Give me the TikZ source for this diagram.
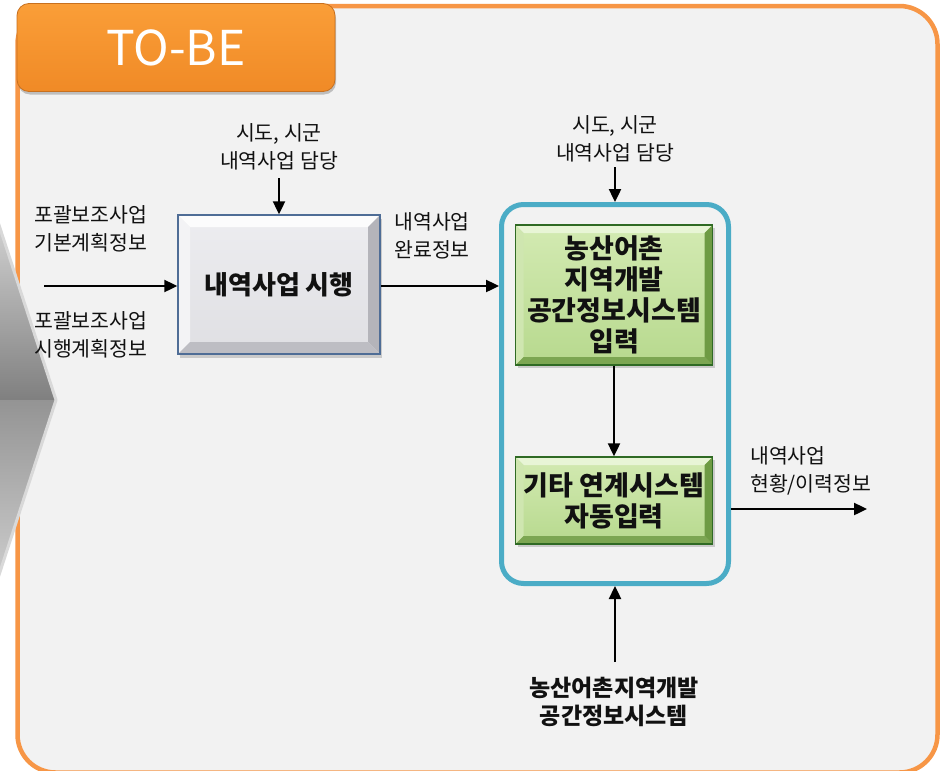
\documentclass[tikz,border=0pt]{standalone}
\usepackage{fontspec}
\setmainfont{Noto Sans CJK KR}
\usetikzlibrary{arrows.meta,shadows}
\definecolor{orangeLine}{HTML}{F79646}
\definecolor{frameBg}{HTML}{F2F2F2}
\definecolor{sysBlue}{HTML}{4BACC6}
\definecolor{tabTop}{HTML}{FA9E38}
\definecolor{tabBot}{HTML}{F08A26}
\definecolor{tabEdge}{HTML}{C8701E}
\definecolor{grayFaceTop}{HTML}{EDEDF0}
\definecolor{grayFaceBot}{HTML}{DFDFE3}
\definecolor{grayBevT}{HTML}{FCFCFC}
\definecolor{grayBevL}{HTML}{F3F3F5}
\definecolor{grayBevR}{HTML}{B4B4BA}
\definecolor{grayBevB}{HTML}{BDBDC3}
\definecolor{grayEdge}{HTML}{4F6D96}
\definecolor{grnFaceTop}{HTML}{D3EAB2}
\definecolor{grnFaceBot}{HTML}{B7D98E}
\definecolor{grnBevT}{HTML}{E8F5D6}
\definecolor{grnBevL}{HTML}{CFE6B0}
\definecolor{grnBevR}{HTML}{6E9B44}
\definecolor{grnBevB}{HTML}{7CA652}
\definecolor{grnEdge}{HTML}{2F6A24}
\definecolor{txt}{HTML}{111111}
\tikzset{
  bevel/.style n args={5}{path picture={
    \coordinate (bNW) at (path picture bounding box.north west);
    \coordinate (bNE) at (path picture bounding box.north east);
    \coordinate (bSW) at (path picture bounding box.south west);
    \coordinate (bSE) at (path picture bounding box.south east);
    \fill[#2] (bNW) -- (bNE) -- ([shift={(-#1,-#1)}]bNE) -- ([shift={(#1,-#1)}]bNW) -- cycle;
    \fill[#3] (bNW) -- (bSW) -- ([shift={(#1,#1)}]bSW) -- ([shift={(#1,-#1)}]bNW) -- cycle;
    \fill[#4] (bNE) -- (bSE) -- ([shift={(-#1,#1)}]bSE) -- ([shift={(-#1,-#1)}]bNE) -- cycle;
    \fill[#5] (bSW) -- (bSE) -- ([shift={(-#1,#1)}]bSE) -- ([shift={(#1,#1)}]bSW) -- cycle;
  }},
  graybox/.style={draw=grayEdge, line width=1.5pt, top color=grayFaceTop,
    bottom color=grayFaceBot, minimum width=202pt, minimum height=139pt,
    inner sep=0pt, bevel={12pt}{grayBevT}{grayBevL}{grayBevR}{grayBevB},
    drop shadow={shadow xshift=2pt, shadow yshift=-4pt, opacity=.35},
    font=\bfseries\fontsize{26}{30}\selectfont, text=txt},
  greenbox/.style={draw=grnEdge, line width=1.5pt, top color=grnFaceTop,
    bottom color=grnFaceBot, minimum width=197pt, inner sep=0pt, align=center,
    bevel={8pt}{grnBevT}{grnBevL}{grnBevR}{grnBevB},
    drop shadow={shadow xshift=2pt, shadow yshift=-3pt, opacity=.35},
    font=\bfseries\fontsize{27}{31}\selectfont, text=txt},
  sysbox/.style={draw=sysBlue, line width=5pt, rounded corners=22pt,
    minimum width=227pt, minimum height=379pt, inner sep=0pt},
  tabbox/.style={draw=tabEdge, line width=0.8pt, rounded corners=12pt,
    top color=tabTop, bottom color=tabBot, minimum width=318pt,
    minimum height=88pt, inner sep=0pt, text=white,
    drop shadow={shadow xshift=1pt, shadow yshift=-3pt, opacity=.45},
    font=\fontsize{48}{48}\selectfont},
  lbl/.style={font=\fontsize{20.5}{28}\selectfont, align=center, inner sep=0pt, text=txt},
  lbll/.style={lbl, align=left, anchor=west},
  blbl/.style={font=\bfseries\fontsize{23}{28}\selectfont, align=center, inner sep=0pt, text=txt},
  arr/.style={line width=2.4pt, draw=black, -{Triangle[length=13pt,width=12pt]}}
}
\begin{document}
\begin{tikzpicture}[x=1pt,y=-1pt]
\useasboundingbox (0,0) rectangle (940,771);
\fill[white] (0,0) rectangle (940,771);
% outer frame
\draw[orangeLine, line width=4.5pt, fill=frameBg, rounded corners=38pt]
  (17.5,6) rectangle (937.5,772.5);
% chevron on the left
\shade[top color=black!18, bottom color=black!50] (-2,222) -- (56,400) -- (-2,400) -- cycle;
\shade[top color=black!42, bottom color=black!20] (-2,400) -- (56,400) -- (-2,578) -- cycle;
\draw[black!15, line width=3pt, line join=round] (-2,222) -- (56,400) -- (-2,578);
% tab
\node[tabbox] (tab) at (176,47.5) {TO-BE};
% main boxes
\node[graybox] (b1) at (279,284.5) {내역사업 시행};
\node[sysbox] (sys) at (615,394) {};
\node[greenbox, minimum height=140pt] (g1) at (614,295) {농산어촌\\지역개발\\공간정보시스템\\입력};
\node[greenbox, minimum height=87pt] (g2) at (614,500.5) {기타 연계시스템\\자동입력};
% labels
\node[lbl] (t1) at (279,147) {시도, 시군\\내역사업 담당};
\node[lbll] (l1) at (34,229) {포괄보조사업\\기본계획정보};
\node[lbll] (l2) at (34,335) {포괄보조사업\\시행계획정보};
\node[lbl] (l3) at (432,236) {내역사업\\완료정보};
\node[lbl] (t2) at (615,139) {시도, 시군\\내역사업 담당};
\node[lbll] (l4) at (750,471) {내역사업\\현황/이력정보};
\node[blbl] (l5) at (614,702) {농산어촌지역개발\\공간정보시스템};
% connectors
\coordinate (inL) at (44,286);
\coordinate (t1a) at (279,178);
\coordinate (t2a) at (615,167);
\coordinate (outR) at (867,509);
\coordinate (botA) at (615,662);
\draw[arr] (inL) -- (inL -| b1.west);
\draw[arr] (t1a) -- (t1a |- b1.north);
\draw[arr] (inL -| b1.east) -- (inL -| sys.west);
\draw[arr] (t2a) -- (t2a |- sys.north);
\draw[arr] (g1.south) -- (g2.north);
\draw[arr] (outR -| sys.east) -- (outR);
\draw[arr] (botA) -- (botA |- sys.south);
\end{tikzpicture}
\end{document}
